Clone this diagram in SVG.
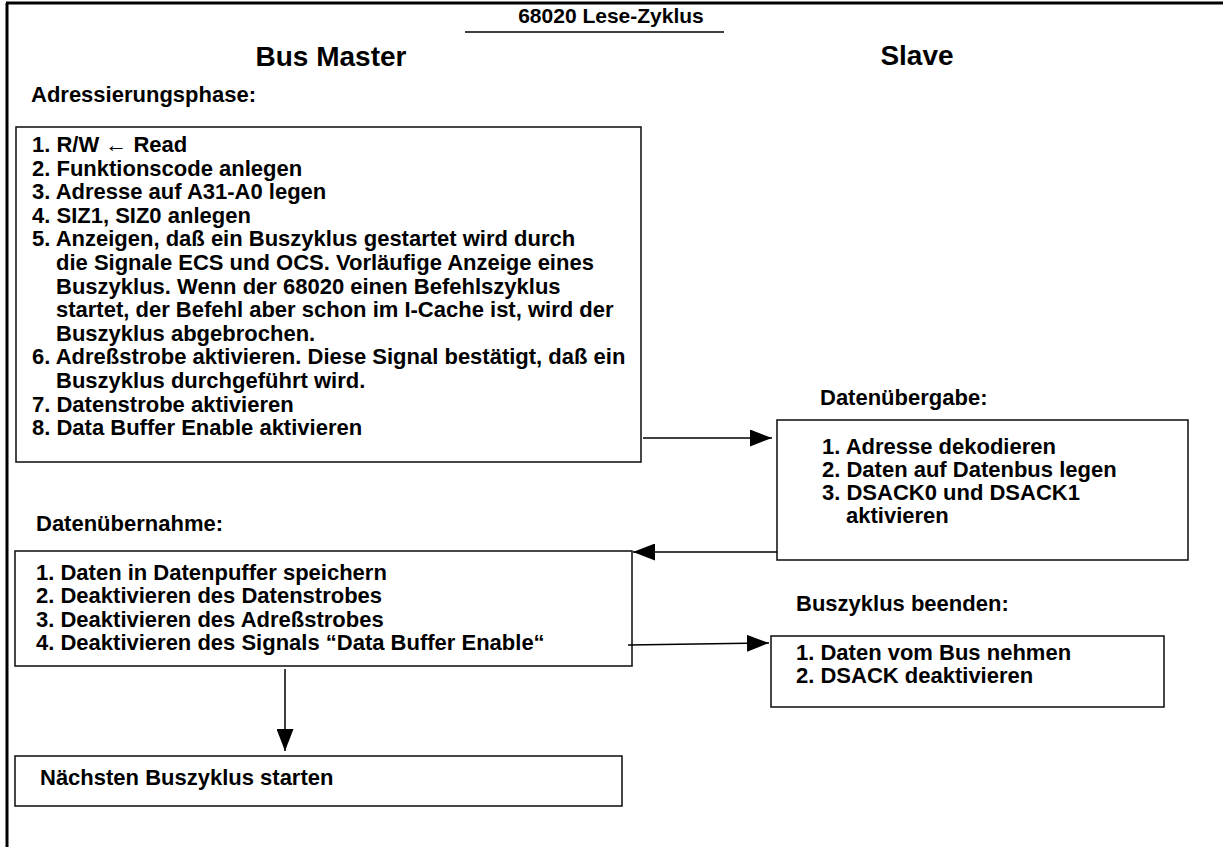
<svg xmlns="http://www.w3.org/2000/svg" width="1223" height="847" viewBox="0 0 1223 847">
<style>
text{font-family:"Liberation Sans",Arial,sans-serif;font-weight:bold;fill:#000}
.b{font-size:22px}
.h{font-size:28px}
.t{font-size:21px}
.box{fill:#fff;stroke:#1a1a1a;stroke-width:1.6}
.c{stroke:#000;stroke-width:1.5;fill:none}
</style>
<defs>
<marker id="ah" markerUnits="userSpaceOnUse" markerWidth="22" markerHeight="17" refX="22" refY="8.5" orient="auto">
<path d="M0,0 L22,8.5 L0,17 Z" fill="#000"/>
</marker>
</defs>
<g id="frame">
<line x1="7" y1="3" x2="7" y2="847" stroke="#000" stroke-width="3"/>
<line x1="6" y1="3" x2="1223" y2="3" stroke="#000" stroke-width="3"/>
</g>
<g id="title">
<text class="t" x="611" y="23" text-anchor="middle">68020 Lese-Zyklus</text>
<line x1="465" y1="32" x2="724" y2="32" stroke="#000" stroke-width="1.5"/>
<text class="h" x="331" y="66" text-anchor="middle">Bus Master</text>
<text class="h" x="917" y="65" text-anchor="middle">Slave</text>
</g>
<g id="adressierung">
<text class="b" x="31" y="102">Adressierungsphase:</text>
<rect class="box" x="16" y="127" width="625" height="335"/>
<text class="b" x="32" y="152">1. R/W ← Read</text>
<text class="b" x="32" y="175.6">2. Funktionscode anlegen</text>
<text class="b" x="32" y="199.2">3. Adresse auf A31-A0 legen</text>
<text class="b" x="32" y="222.8">4. SIZ1, SIZ0 anlegen</text>
<text class="b" x="32" y="246.4">5. Anzeigen, daß ein Buszyklus gestartet wird durch</text>
<text class="b" x="56" y="270">die Signale ECS und OCS. Vorläufige Anzeige eines</text>
<text class="b" x="56" y="293.6">Buszyklus. Wenn der 68020 einen Befehlszyklus</text>
<text class="b" x="56" y="317.2">startet, der Befehl aber schon im I-Cache ist, wird der</text>
<text class="b" x="56" y="340.8">Buszyklus abgebrochen.</text>
<text class="b" x="32" y="364.4">6. Adreßstrobe aktivieren. Diese Signal bestätigt, daß ein</text>
<text class="b" x="56" y="388">Buszyklus durchgeführt wird.</text>
<text class="b" x="32" y="411.6">7. Datenstrobe aktivieren</text>
<text class="b" x="32" y="435.2">8. Data Buffer Enable aktivieren</text>
</g>
<g id="datenuebergabe">
<text class="b" x="820" y="405">Datenübergabe:</text>
<rect class="box" x="777" y="420" width="411" height="140"/>
<text class="b" x="822" y="454">1. Adresse dekodieren</text>
<text class="b" x="822" y="477">2. Daten auf Datenbus legen</text>
<text class="b" x="822" y="500">3. DSACK0 und DSACK1</text>
<text class="b" x="846" y="523">aktivieren</text>
</g>
<g id="datenuebernahme">
<text class="b" x="36" y="531">Datenübernahme:</text>
<rect class="box" x="15" y="551" width="617" height="115"/>
<text class="b" x="36" y="580">1. Daten in Datenpuffer speichern</text>
<text class="b" x="36" y="603.3">2. Deaktivieren des Datenstrobes</text>
<text class="b" x="36" y="626.6">3. Deaktivieren des Adreßstrobes</text>
<text class="b" x="36" y="650">4. Deaktivieren des Signals “Data Buffer Enable“</text>
</g>
<g id="buszyklus-beenden">
<text class="b" x="796" y="611">Buszyklus beenden:</text>
<rect class="box" x="771" y="636" width="393" height="71"/>
<text class="b" x="796" y="660">1. Daten vom Bus nehmen</text>
<text class="b" x="796" y="683">2. DSACK deaktivieren</text>
</g>
<g id="naechster">
<rect class="box" x="15" y="756" width="607" height="50"/>
<text class="b" x="40" y="785">Nächsten Buszyklus starten</text>
</g>
<g id="connectors">
<line class="c" x1="643" y1="438" x2="772" y2="438" marker-end="url(#ah)"/>
<line class="c" x1="777" y1="552" x2="633" y2="552" marker-end="url(#ah)"/>
<line class="c" x1="628" y1="645" x2="769" y2="643" marker-end="url(#ah)"/>
<line class="c" x1="285" y1="669" x2="285" y2="751" marker-end="url(#ah)"/>
</g>
</svg>
